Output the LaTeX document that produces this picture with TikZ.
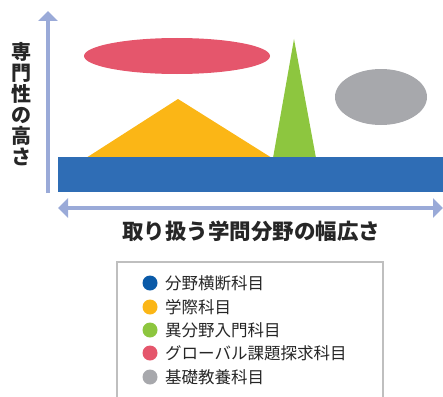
\documentclass[tikz,border=0pt]{standalone}
\usepackage{fontspec}
\newfontfamily\jp{Noto Sans CJK JP}
\usetikzlibrary{arrows.meta}
\definecolor{axis}{HTML}{9AAAD8}
\definecolor{barblue}{HTML}{2F6DB5}
\definecolor{legblue}{HTML}{0A5AA8}
\definecolor{yel}{HTML}{FBB616}
\definecolor{grn}{HTML}{8DC63F}
\definecolor{red}{HTML}{E5566C}
\definecolor{gry}{HTML}{A7A8AC}
\tikzset{
  axisline/.style={draw=axis, line width=4pt, -{Triangle[width=19pt,length=10pt]}},
  axislab/.style={font=\jp\bfseries\fontsize{20}{21}\selectfont, text=black!85},
  legdot/.style={circle, minimum size=15pt, inner sep=0pt},
  legtext/.style={font=\jp\fontsize{16.5}{18}\selectfont, anchor=west, text=black!85, inner sep=0pt}
}
\begin{document}
\begin{tikzpicture}[x=1pt,y=-1pt]
\useasboundingbox (0,0) rectangle (443,396);
\clip (0,0) rectangle (443,396);
% shapes
\fill[red] (177,56) ellipse[x radius=93, y radius=18];
\fill[gry] (381,97) ellipse[x radius=46, y radius=28];
\fill[yel] (86,158) -- (178,99) -- (272,158) -- cycle;
\fill[grn] (273,158) -- (294,39) -- (316,158) -- cycle;
\fill[barblue] (58,157) rectangle (443,192);
% axes
\coordinate (v0) at (48,193);
\coordinate (v1) at (48,11);
\draw[axisline] (v0) -- (v1);
\coordinate (h0) at (58,208);
\coordinate (h1) at (443,208);
\draw[axisline, {Triangle[width=19pt,length=10pt]}-{Triangle[width=19pt,length=10pt]}] (h0) -- (h1);
\node[axislab, align=center, inner sep=0pt] (ylab) at (22,104) {専\\門\\性\\の\\高\\さ};
\node[axislab, font=\jp\bfseries\fontsize{21.5}{22}\selectfont] (xlab) at (251,231) {取り扱う学問分野の幅広さ};
% legend
\draw[draw=black!25, line width=1.2pt] (117,410) -- (117,262) -- (383,262) -- (383,410);
\node[legdot, fill=legblue] (d1) at (150,283) {};
\node[legtext] (t1) at (165,283) {分野横断科目};
\node[legdot, fill=yel] (d2) at (150,307) {};
\node[legtext] (t2) at (165,307) {学際科目};
\node[legdot, fill=grn] (d3) at (150,330) {};
\node[legtext] (t3) at (165,330) {異分野入門科目};
\node[legdot, fill=red] (d4) at (150,353) {};
\node[legtext] (t4) at (165,353) {グローバル課題探求科目};
\node[legdot, fill=gry] (d5) at (150,377) {};
\node[legtext] (t5) at (165,377) {基礎教養科目};
\end{tikzpicture}
\end{document}
